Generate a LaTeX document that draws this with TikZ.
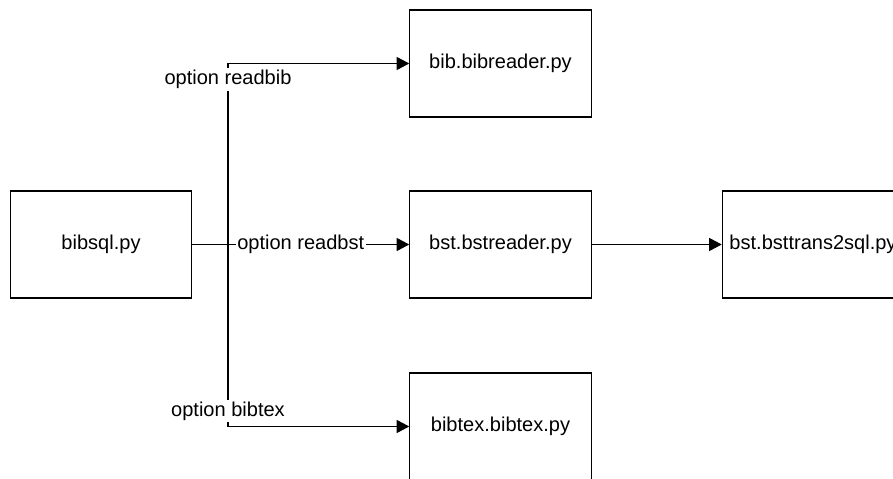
\documentclass[tikz,border=0pt]{standalone}
\usepackage{fontspec}
\setmainfont{Liberation Sans}
\usetikzlibrary{arrows.meta,positioning}
\tikzstyle{arrow} = [line width=0.6pt, -{Triangle[length=0.25cm,width=0.26cm]}]
\tikzstyle{module} = [draw, line width=0.6pt, minimum width=3.63cm, minimum height=2.14cm, font=\fontsize{11.4}{13}\selectfont]
\tikzstyle{opt} = [fill=white, inner sep=1pt, font=\fontsize{11.4}{13}\selectfont]

\begin{document}
\begin{tikzpicture}
\useasboundingbox (0,0) rectangle (17.86,9.58);

% the modules
\node[module] (bibsql) at (2.02,4.69) {bibsql.py};
\node[module] (bib) at (10.01,8.31) {bib.bibreader.py};
\node[module] (bst) at (10.01,4.69) {bst.bstreader.py};
\node[module] (trans) at (16.26,4.69) {bst.bsttrans2sql.py};
\node[module] (bibtex) at (10.01,1.05) {bibtex.bibtex.py};

% command line options branch off here
\coordinate (fork) at (4.56,4.69);
\draw[arrow] (bibsql) -- node[opt]{option readbst} (bst);
\draw[arrow] (fork) |- node[opt,pos=0.456]{option readbib} (bib);
\draw[arrow] (fork) |- node[opt,pos=0.457]{option bibtex} (bibtex);
\draw[arrow] (bst) -- (trans);

\end{tikzpicture}
\end{document}
